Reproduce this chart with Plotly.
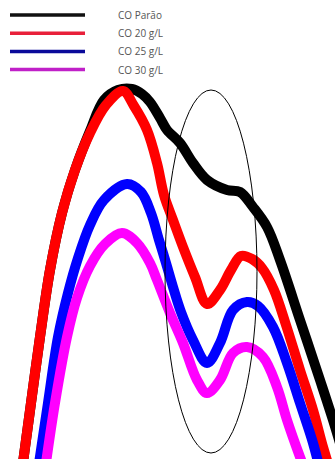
import plotly.graph_objects as go

# Curve traces (x, y in plot units; y grows downward)
parao_x = [22, 31, 40, 50, 62, 75, 90, 104, 118, 132, 142, 150, 160, 167, 180, 193, 207, 227, 240, 253, 267, 280, 300, 320, 333, 342]
parao_y = [470, 403, 337, 270, 213, 170, 131, 100, 90, 89, 94, 102, 118, 130, 143, 163, 180, 190, 192, 207, 227, 260, 320, 380, 420, 450]

co20_x = [22, 31, 40, 50, 62, 75, 90, 106, 123, 134, 147, 157, 164, 173, 183, 195, 207, 220, 231, 241, 252, 262, 274, 286, 300, 313, 323, 330]
co20_y = [470, 403, 337, 270, 213, 170, 133, 105, 91, 106, 130, 163, 195, 220, 247, 277, 304, 290, 270, 256, 259, 268, 290, 325, 370, 410, 447, 470]

co25_x = [38, 48, 58, 68, 78, 90, 104, 127, 141, 151, 159, 166, 173, 181, 193, 207, 220, 233, 247, 258, 273, 287, 300, 313, 320]
co25_y = [470, 403, 337, 293, 258, 225, 200, 184, 192, 213, 240, 263, 287, 312, 340, 363, 343, 310, 302, 306, 327, 363, 403, 443, 470]

co30_x = [45, 55, 67, 77, 90, 105, 122, 137, 150, 157, 170, 183, 197, 207, 220, 233, 247, 263, 277, 287, 300, 305]
co30_y = [470, 403, 337, 298, 266, 244, 233, 243, 263, 280, 313, 343, 380, 393, 380, 353, 347, 357, 387, 420, 457, 470]

series = [
    ("CO Parão", parao_x, parao_y, "#000000"),
    ("CO 20 g/L", co20_x, co20_y, "#ff0000"),
    ("CO 25 g/L", co25_x, co25_y, "#0000ff"),
    ("CO 30 g/L", co30_x, co30_y, "#ff00ff"),
]
legend_colors = ["#111111", "#e8203a", "#0a0a9a", "#c020c8"]

fig = go.Figure()
for name, xs, ys, color in series:
    fig.add_trace(go.Scatter(
        x=xs, y=ys, mode="lines", name=name,
        line=dict(color=color, width=10, shape="spline", smoothing=1.0),
        showlegend=False,
    ))

shapes = []
annotations = []
W, H = 335, 459
for i, (name, _, _, _) in enumerate(series):
    yp = 1 - (15 + 18.2 * i) / H
    shapes.append(dict(type="line", xref="paper", yref="paper",
                       x0=10 / W, x1=85 / W, y0=yp, y1=yp,
                       line=dict(color=legend_colors[i], width=3.5)))
    annotations.append(dict(text=name, xref="paper", yref="paper",
                            x=116 / W, y=yp, xanchor="left", yanchor="middle",
                            showarrow=False,
                            font=dict(family="Open Sans", size=10, color="#555555")))

# Highlight ellipse around the shoulder region
shapes.append(dict(type="circle", xref="x", yref="y",
                   x0=165, x1=257, y0=90, y1=453,
                   line=dict(color="#000000", width=1), layer="above"))

fig.update_layout(
    width=W, height=H,
    margin=dict(l=0, r=0, t=0, b=0),
    paper_bgcolor="white", plot_bgcolor="white",
    xaxis=dict(range=[0, W], visible=False, fixedrange=True),
    yaxis=dict(range=[H, 0], visible=False, fixedrange=True),
    shapes=shapes, annotations=annotations,
)

fig.write_html("out.html")
